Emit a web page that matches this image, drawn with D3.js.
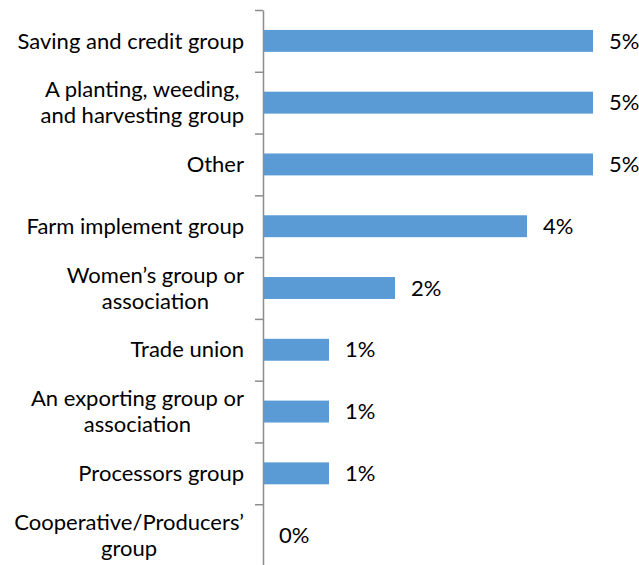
<!DOCTYPE html>
<html><head><meta charset="utf-8">
<script src="https://cdn.jsdelivr.net/npm/d3@7"></script>
<style>body{margin:0;background:#fff}svg{display:block}</style>
</head><body>
<svg id="chart" width="639" height="565"></svg>
<script>
const categories = [
  "Saving and credit group",
  "A planting, weeding,\nand harvesting group",
  "Other",
  "Farm implement group",
  "Women\u2019s group or\nassociation",
  "Trade union",
  "An exporting group or\nassociation",
  "Processors group",
  "Cooperative/Producers\u2019\ngroup"
];
const values = [5, 5, 5, 4, 2, 1, 1, 1, 0];
const valueLabels = ["5%", "5%", "5%", "4%", "2%", "1%", "1%", "1%", "0%"];

(function () {
const svg = d3.select("#chart");
const font = "Lato, 'Open Sans', sans-serif";
const fs = 22;
const x0 = 263, yTop = 10, yBottom = 566;

const x = d3.scaleLinear().domain([0, 5]).range([x0, x0 + 330]);
const y = d3.scaleBand().domain(categories).range([yTop, yBottom]).paddingInner(0.645).paddingOuter(0.3225);
const yIdx = d3.scaleLinear().domain([0, categories.length]).range([yTop, yBottom]);

// bars
svg.selectAll("rect.bar").data(categories).join("rect")
  .attr("class", "bar")
  .attr("x", x(0))
  .attr("y", d => y(d))
  .attr("width", (d, i) => x(values[i]) - x(0))
  .attr("height", y.bandwidth())
  .attr("fill", "#5B9BD5");

// axis with ticks between categories
const ax = svg.append("g").attr("transform", `translate(${x0},0)`)
  .call(d3.axisLeft(yIdx).tickValues(d3.range(categories.length + 1)).tickFormat("").tickSize(8).tickSizeOuter(0));
ax.selectAll("path, line").attr("stroke", "#8c8c8c").attr("stroke-width", 1.5);

// category labels: block right-aligned, lines centred within block
const lh = 26;
const rightEdge = x0 - 19;
svg.selectAll("text.cat").data(categories).join("text")
  .attr("class", "cat")
  .attr("text-anchor", "middle")
  .attr("font-family", font)
  .attr("font-size", fs)
  .attr("fill", "#000")
  .each(function(d) {
    const lines = d.split("\n");
    const cy = y(d) + y.bandwidth() / 2;
    const t = d3.select(this);
    const spans = lines.map((ln, k) => t.append("tspan")
        .attr("y", cy + (k - (lines.length - 1) / 2) * lh)
        .attr("dy", "0.35em")
        .text(ln));
    const maxW = d3.max(spans, s => s.node().getComputedTextLength());
    spans.forEach(s => s.attr("x", rightEdge - maxW / 2));
  });

// value labels
svg.selectAll("text.val").data(categories).join("text")
  .attr("class", "val")
  .attr("font-family", font)
  .attr("font-size", fs)
  .attr("fill", "#000")
  .attr("x", (d, i) => x(values[i]) + 16)
  .attr("y", (d, i) => y(d) + y.bandwidth() / 2)
  .attr("dy", "0.35em")
  .text((d, i) => valueLabels[i]);
})();
</script>
</body></html>
